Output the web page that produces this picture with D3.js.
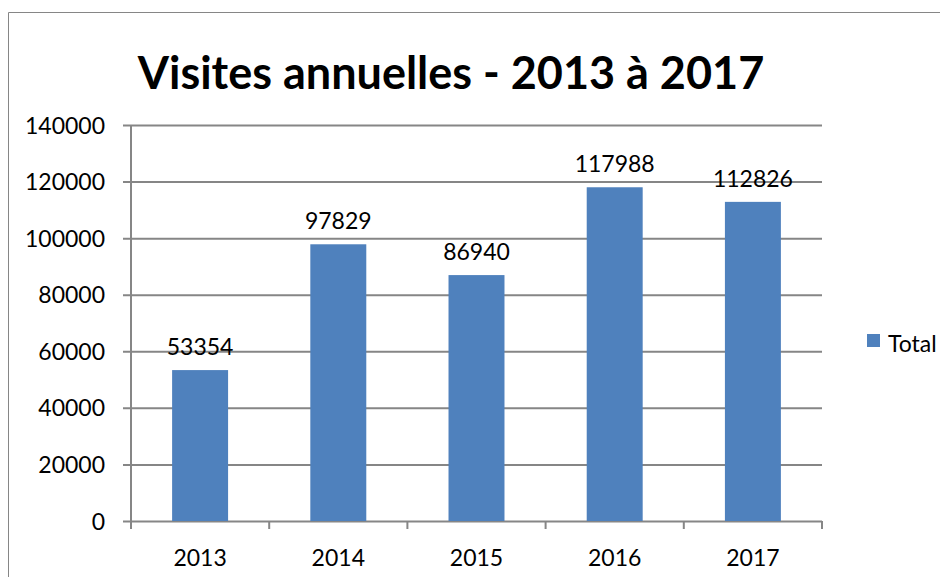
<!DOCTYPE html>
<html>
<head>
<meta charset="utf-8">
<script src="https://cdn.jsdelivr.net/npm/d3@7"></script>
<style>
  body { margin: 0; background: #fff; }
  text { font-family: Lato, "Open Sans", sans-serif; fill: #000; }
</style>
</head>
<body>
<div id="chart"></div>
<script>
// data
var years = ["2013", "2014", "2015", "2016", "2017"];
var visits = [53354, 97829, 86940, 117988, 112826];
var yTicks = [0, 20000, 40000, 60000, 80000, 100000, 120000, 140000];
var seriesName = "Total";

var width = 940, height = 577;
var margin = { top: 125, right: 118, bottom: 56, left: 131 };
var plotW = width - margin.left - margin.right;
var plotH = height - margin.top - margin.bottom;

var axisColor = "#868686";
var barColor = "#4f81bd";
var labelSize = "23px";

var svg = d3.select("#chart").append("svg")
    .attr("width", width)
    .attr("height", height);

// outer chart border (only top and left visible)
svg.append("line").attr("x1", 8.5).attr("x2", width).attr("y1", 12.5).attr("y2", 12.5)
    .attr("stroke", axisColor).attr("stroke-width", 1);
svg.append("line").attr("x1", 8.5).attr("x2", 8.5).attr("y1", 12.5).attr("y2", height)
    .attr("stroke", axisColor).attr("stroke-width", 1);

// title
svg.append("text")
    .attr("x", 451)
    .attr("y", 89)
    .attr("text-anchor", "middle")
    .style("font-size", "45px")
    .style("font-weight", "bold")
    .text("Visites annuelles - 2013 à 2017");

var g = svg.append("g")
    .attr("transform", "translate(" + margin.left + "," + margin.top + ")");

var y = d3.scaleLinear().domain([0, 140000]).range([plotH, 0]);
var x = d3.scaleBand().domain(years).range([0, plotW]).paddingInner(0.595).paddingOuter(0.2975);
var xb = d3.scaleBand().domain(years).range([0, plotW]);

// gridlines + y axis ticks
var yAxis = d3.axisLeft(y).tickValues(yTicks).tickSize(8).tickFormat(d3.format("d")).tickPadding(18);
var yAx = g.append("g").call(yAxis);
yAx.select(".domain").remove();
yAx.selectAll(".tick line").attr("x2", plotW).attr("x1", -8).attr("stroke", axisColor).attr("stroke-width", 2);
yAx.selectAll(".tick text").style("font-size", labelSize).attr("dy", "0.35em");

// y axis line
g.append("line").attr("x1", 0).attr("x2", 0).attr("y1", 0).attr("y2", plotH + 8)
    .attr("stroke", axisColor).attr("stroke-width", 2);

// x axis ticks at band boundaries
var bounds = years.map(function (d) { return xb(d); }).concat([plotW]);
g.selectAll(".xtick").data(bounds).enter().append("line")
    .attr("class", "xtick")
    .attr("x1", function (d) { return d; }).attr("x2", function (d) { return d; })
    .attr("y1", plotH).attr("y2", plotH + 8)
    .attr("stroke", axisColor).attr("stroke-width", 2);

g.selectAll(".xlabel").data(years).enter().append("text")
    .attr("class", "xlabel")
    .attr("x", function (d) { return xb(d) + xb.bandwidth() / 2; })
    .attr("y", plotH + 45)
    .attr("text-anchor", "middle")
    .style("font-size", labelSize)
    .text(function (d) { return d; });

// bars
g.selectAll("rect.bar").data(visits).enter().append("rect")
    .attr("class", "bar")
    .attr("x", function (d, i) { return x(years[i]); })
    .attr("y", function (d) { return y(d); })
    .attr("width", x.bandwidth())
    .attr("height", function (d) { return plotH - y(d); })
    .attr("fill", barColor);

// value labels
g.selectAll(".vlabel").data(visits).enter().append("text")
    .attr("class", "vlabel")
    .attr("x", function (d, i) { return x(years[i]) + x.bandwidth() / 2; })
    .attr("y", function (d) { return y(d) - 15; })
    .attr("text-anchor", "middle")
    .style("font-size", labelSize)
    .text(function (d) { return d; });

// legend
svg.append("rect").attr("x", 867).attr("y", 334).attr("width", 13).attr("height", 13).attr("fill", barColor);
svg.append("text").attr("x", 888).attr("y", 352).style("font-size", labelSize).text(seriesName);
</script>
</body>
</html>
